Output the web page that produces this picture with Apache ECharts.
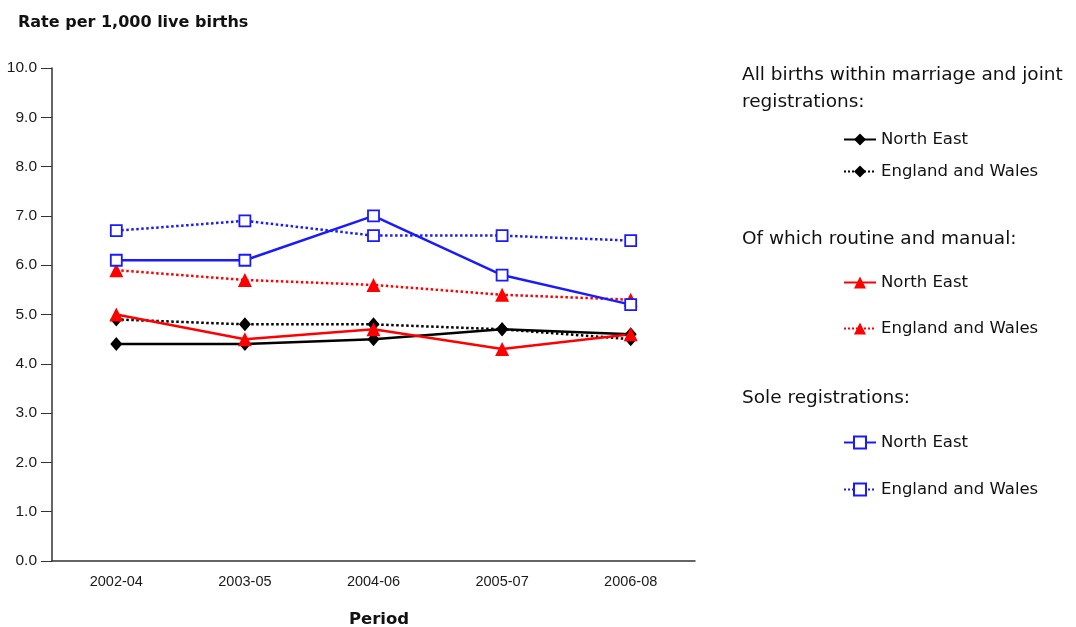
<!DOCTYPE html>
<html>
<head>
<meta charset="utf-8">
<script src="https://cdn.jsdelivr.net/npm/echarts/dist/echarts.min.js"></script>
<style>
  html, body { margin: 0; padding: 0; background: #fff; }
  #chart { width: 1076px; height: 627px; }
</style>
</head>
<body>
<div id="chart"></div>
<script>
const periods = ['2002-04', '2003-05', '2004-06', '2005-07', '2006-08'];
const yTicks = [0, 10, 1];

// all births within marriage and joint registrations
const allNorthEast = [4.4, 4.4, 4.5, 4.7, 4.6];
const allEnglandWales = [4.9, 4.8, 4.8, 4.7, 4.5];
// of which routine and manual
const rmNorthEast = [5.0, 4.5, 4.7, 4.3, 4.6];
const rmEnglandWales = [5.9, 5.7, 5.6, 5.4, 5.3];
// sole registrations
const soleNorthEast = [6.1, 6.1, 7.0, 5.8, 5.2];
const soleEnglandWales = [6.7, 6.9, 6.6, 6.6, 6.5];

const groupHeaders = ['All births within marriage and joint\nregistrations:', 'Of which routine and manual:', 'Sole registrations:'];

const chart = echarts.init(document.getElementById('chart'));

const sansFont = '"DejaVu Sans", Verdana, Tahoma, sans-serif';
const narrowFont = '"Liberation Sans Narrow", "Arial Narrow", "Liberation Sans", Arial, sans-serif';

function mk(name, data, color, dash, symbol, size, hollow) {
    return {
        name: name,
        type: 'line',
        data: data,
        symbol: symbol,
        symbolSize: size,
        showAllSymbol: true,
        lineStyle: { color: color, width: 2.5, type: dash ? 'dotted' : 'solid' },
        itemStyle: hollow
            ? { color: '#fff', borderColor: color, borderWidth: 1.8 }
            : { color: color, borderWidth: 0 },
        z: hollow ? 3 : 2
    };
}

const seriesList = [
    mk('a_ne', allNorthEast, '#000', false, 'diamond', [12, 14], false),
    mk('a_ew', allEnglandWales, '#000', true, 'diamond', [12, 14], false),
    mk('r_ne', rmNorthEast, '#ff0000', false, 'triangle', 14, false),
    mk('r_ew', rmEnglandWales, '#ff0000', true, 'triangle', 14, false),
    mk('s_ne', soleNorthEast, '#1a1aff', false, 'rect', 11, true),
    mk('s_ew', soleEnglandWales, '#1a1aff', true, 'rect', 11, true)
];

const legendTops = [139, 171, 282, 328, 442, 489];
const legends = seriesList.map((s, i) => ({
    data: [s.name],
    left: 838,
    top: legendTops[i] - 13,
    itemWidth: 32,
    itemHeight: 15,
    itemGap: 6,
    selectedMode: false,
    formatter: () => (i % 2 === 0 ? 'North East' : 'England and Wales'),
    textStyle: { fontFamily: sansFont, fontSize: 16.5, color: '#111' }
}));

chart.setOption({
    animation: false,
    title: [
        {
            text: 'Rate per 1,000 live births',
            left: 13, top: 10,
            textStyle: { fontFamily: sansFont, fontSize: 16, fontWeight: 'bold', color: '#111' }
        },
        {
            text: 'Period',
            left: 374, top: 606, textAlign: 'center',
            textStyle: { fontFamily: sansFont, fontSize: 16.5, fontWeight: 'bold', color: '#111' }
        }
    ],
    legend: legends,
    graphic: [
        { type: 'text', left: 742, top: 62, style: { text: groupHeaders[0], font: '18.5px ' + sansFont, fill: '#111', lineHeight: 27 } },
        { type: 'text', left: 742, top: 230, style: { text: groupHeaders[1], font: '18.5px ' + sansFont, fill: '#111' } },
        { type: 'text', left: 742, top: 389, style: { text: groupHeaders[2], font: '18.5px ' + sansFont, fill: '#111' } }
    ],
    grid: { left: 52, right: 381, top: 68, bottom: 66 },
    xAxis: {
        type: 'category',
        data: periods,
        boundaryGap: true,
        axisLine: { lineStyle: { color: '#333', width: 1.5 } },
        axisTick: { alignWithLabel: true, length: 7, lineStyle: { color: '#333' } },
        axisLabel: { fontFamily: narrowFont, fontSize: 14.5, color: '#1a1a1a', margin: 13 }
    },
    yAxis: {
        type: 'value',
        min: yTicks[0],
        max: yTicks[1],
        interval: yTicks[2],
        splitLine: { show: false },
        axisLine: { show: true, lineStyle: { color: '#333', width: 1.5 } },
        axisTick: { show: true, length: 11, lineStyle: { color: '#333' } },
        axisLabel: {
            fontFamily: narrowFont, fontSize: 15.5, color: '#1a1a1a', margin: 15,
            formatter: v => v.toFixed(1)
        }
    },
    series: seriesList
});
</script>
</body>
</html>
